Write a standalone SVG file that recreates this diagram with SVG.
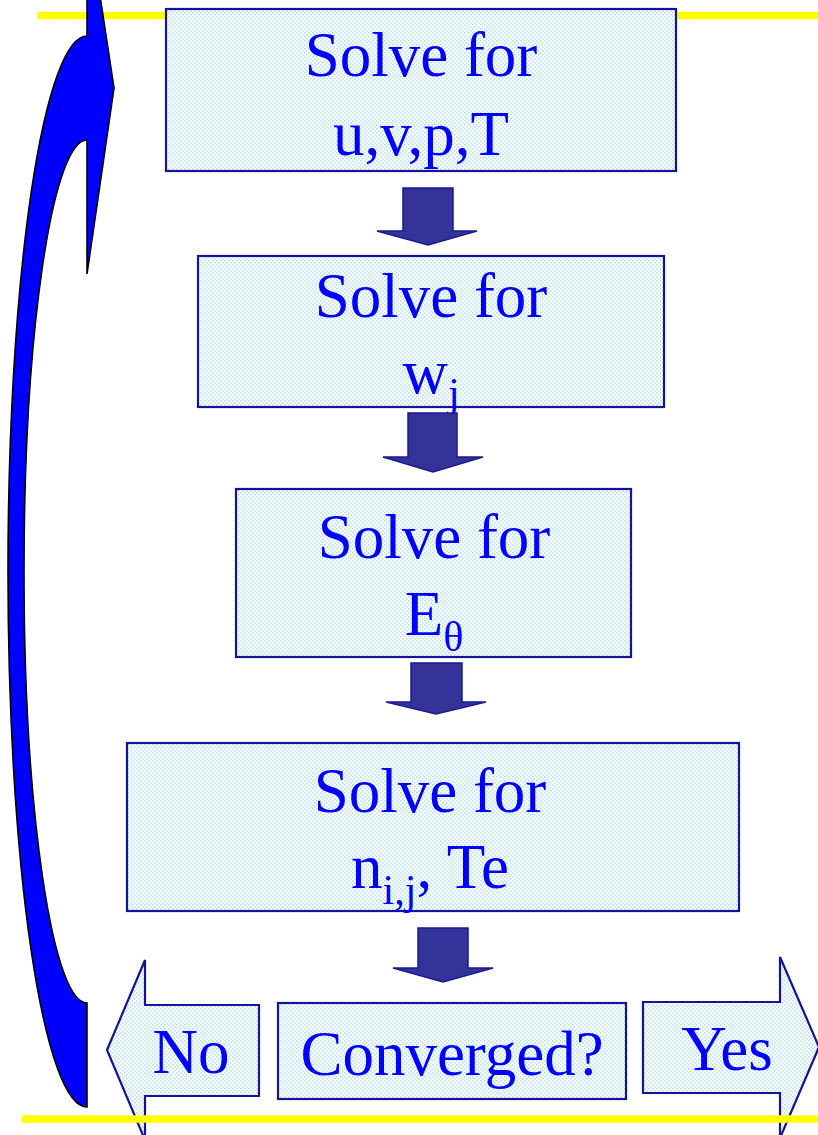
<svg xmlns="http://www.w3.org/2000/svg" width="818" height="1135" viewBox="0 0 818 1135">
  <defs>
    <pattern id="dots" width="4" height="4" patternUnits="userSpaceOnUse">
      <rect width="4" height="4" fill="#ffffff"/>
      <rect x="0" y="0" width="1.6" height="1.6" fill="#b9e0e8"/>
      <rect x="2" y="2" width="1.6" height="1.6" fill="#b9e0e8"/>
    </pattern>
    <style>
      .box { fill: url(#dots); stroke: #14149a; stroke-width: 2.2; }
      .lbl { font-family: "Liberation Serif", "Times New Roman", serif; font-size: 63px; fill: #0000ff; text-anchor: middle; }
      .sub { font-size: 42px; }
      .down { fill: #333399; stroke: #1a1a8f; stroke-width: 1.5; stroke-linejoin: miter; }
      .loop { fill: #0000ff; stroke: #000000; stroke-width: 1.6; }
      .rule { stroke: #ffff00; stroke-width: 7.5; }
    </style>
  </defs>

  <rect width="818" height="1135" fill="#ffffff"/>

  <g id="rules">
    <line class="rule" x1="37" y1="15.5" x2="818" y2="15.5"/>
  </g>

  <g id="node-uvpT">
    <rect class="box" x="166" y="9" width="510" height="162"/>
    <text class="lbl" x="421" y="76">Solve for</text>
    <text class="lbl" x="421" y="155">u,v,p,T</text>
  </g>

  <g id="node-wj">
    <rect class="box" x="198" y="256" width="466" height="151"/>
    <text class="lbl" x="431" y="317">Solve for</text>
    <text class="lbl" x="431" y="393">w<tspan class="sub" dy="14">j</tspan></text>
  </g>

  <g id="node-Etheta">
    <rect class="box" x="236" y="489" width="395" height="168"/>
    <text class="lbl" x="434" y="558">Solve for</text>
    <text class="lbl" x="434" y="635">E<tspan class="sub" dy="16">θ</tspan></text>
  </g>

  <g id="node-nijTe">
    <rect class="box" x="127" y="743" width="612" height="168"/>
    <text class="lbl" x="430" y="812">Solve for</text>
    <text class="lbl" x="430" y="888">n<tspan class="sub" dy="16">i,j</tspan><tspan dy="-16">, Te</tspan></text>
  </g>

  <g id="node-converged">
    <rect class="box" x="278" y="1003" width="348" height="96"/>
    <text class="lbl" x="452" y="1075">Converged?</text>
  </g>

  <g id="node-no">
    <path class="box" d="M107 1050 L145 960 L145 1005 L259 1005 L259 1096 L145 1096 L145 1140 Z"/>
    <text class="lbl" x="191" y="1073">No</text>
  </g>

  <g id="node-yes">
    <path class="box" d="M643 1002 L780 1002 L780 957 L819 1047 L780 1138 L780 1093 L643 1093 Z"/>
    <text class="lbl" x="727" y="1070">Yes</text>
  </g>

  <g id="rules-bottom">
    <line class="rule" x1="22" y1="1119" x2="818" y2="1119"/>
  </g>

  <g id="connectors">
    <polygon class="down" points="403,188 453,188 453,231 477,231 428,245 377,231 403,231"/>
    <polygon class="down" points="408,413 457,413 457,457 483,457 433,472 383,457 408,457"/>
    <polygon class="down" points="411,663 462,663 462,702 486,702 436,714 386,702 411,702"/>
    <polygon class="down" points="418,928 468,928 468,968 493,968 443,982 393,968 418,968"/>
    <path class="loop" d="M87 -90 L114 88 L87 274 L87 140 A63 431.5 0 0 0 87 1003 L87 1107 A79 535.5 0 0 1 87 36 Z"/>
  </g>
</svg>
